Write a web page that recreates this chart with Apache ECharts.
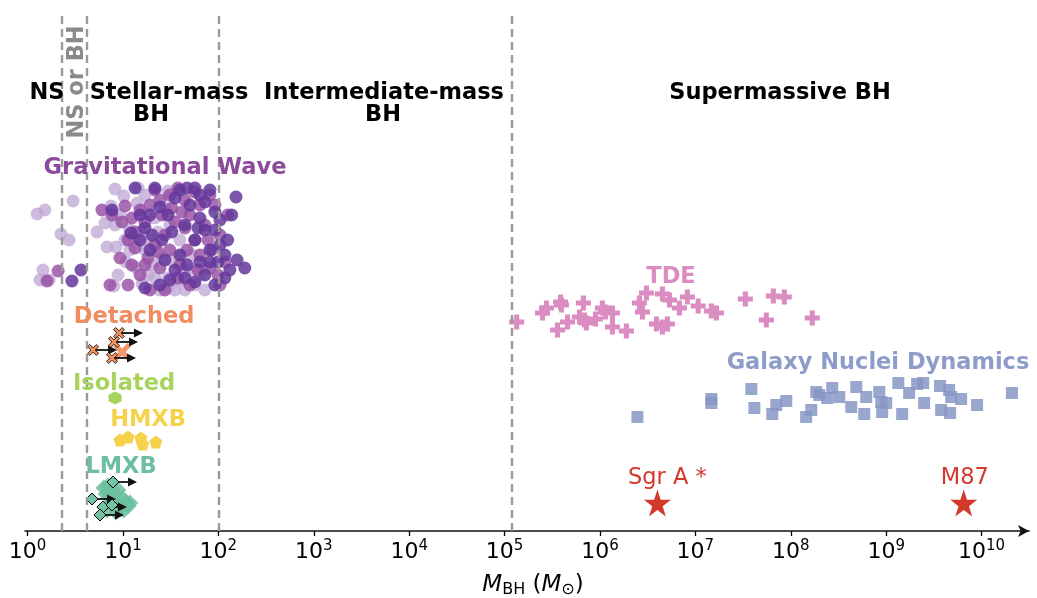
<!DOCTYPE html>
<html>
<head>
<meta charset="utf-8">
<script src="https://cdn.jsdelivr.net/npm/echarts@6/dist/echarts.min.js"></script>
<style>
  html, body { margin: 0; padding: 0; background: #fff; }
  #chart { width: 1037px; height: 598px; }
</style>
</head>
<body>
<div id="chart"></div>
<script>
// Black hole / neutron star masses by detection method.
// Each point: [mass in solar masses, vertical lane position]
const gwLight = [
  [1.26,317],[1.52,321],[3.0,330],[2.24,297],[2.72,291],[1.45,261],[1.35,251],[1.68,251],
  [8.25,342],[5.34,299],[6.8,284],[8.45,284],[8.87,256],[8.05,245],[13.4,264],[14.1,328],
  [7.5,325],[6.48,308],[8.25,306],[10.5,291],[9.31,316],[11.8,301],[15.1,299],[14.4,343],
  [17.0,336],[29.6,340],[27.5,323],[21.6,313],[14.4,293],[17.0,281],[20.2,266],[25.6,273],
  [32.5,270],[41.5,276],[44.6,260],[21.6,253],[29.6,253],[37.6,250],[50.3,261],[29.6,243],
  [18.3,256],[24.4,241],[35.1,241],[56.7,246],[11.8,281],[19.2,291],[23.3,299],[39.5,291],
  [64.0,256],[44.6,241],[10.8,269],[15.9,247],[52.8,276],[31.0,306],[72.2,241],[10.2,335]
];
const gwMedium = [
  [2.09,260],[1.60,250],[6.02,321],[10.5,325],[11.3,246],[7.31,246],[7.67,316],[9.77,309],
  [12.4,313],[15.1,321],[11.3,291],[13.4,283],[17.0,309],[19.2,326],[21.6,341],[24.4,331],
  [31.0,336],[37.6,343],[44.6,331],[56.7,339],[64.0,326],[81.5,336],[91.9,326],[50.3,316],
  [35.1,309],[27.5,296],[21.6,286],[18.3,273],[24.4,263],[31.0,281],[39.5,266],[44.6,303],
  [56.7,291],[72.2,306],[85.5,281],[104,296],[117,269],[81.5,263],[64.0,276],[50.3,246],
  [37.6,253],[27.5,241],[19.2,241],[15.1,256],[12.4,266],[25.6,316],[32.5,323],[47.0,281],
  [61.0,261],[104,246],[125,316],[17.0,266],[9.31,273],[77.7,291],[99,256],[41.5,319],
  [23.3,279],[13.4,299]
];
const gwDark = [
  [3.63,261],[2.92,250],[7.67,321],[13.4,343],[12.1,298],[21.6,343],[24.4,324],[29.6,316],
  [35.1,333],[39.5,341],[47.0,343],[56.7,343],[64.0,336],[72.2,329],[81.5,341],[91.9,319],
  [72.2,301],[64.0,313],[56.7,291],[81.5,281],[91.9,301],[104,286],[117,276],[132,261],
  [138,316],[157,271],[189,263],[153,334],[117,253],[91.9,246],[72.2,256],[56.7,249],
  [44.6,253],[35.1,261],[27.5,271],[19.2,281],[15.1,291],[17.0,303],[19.2,316],[25.6,291],
  [32.5,299],[44.6,306],[50.3,326],[64.0,269],[81.5,269],[99,269],[24.4,246],[31.0,251],
  [47.0,266],[61.0,303],[17.0,243],[20.2,296],[104,311],[125,291],[39.5,276],[15.1,316]
];
const detachedLimits = [[4.86,181],[9.08,198],[8.05,189],[7.67,173]];
const detachedBlob = [[9.77,179]];
const isolated = [[8.25,133]];
const hmxb = [[9.31,91],[11.3,94],[15.4,93],[16.1,87],[22.1,89]];
const lmxb = [
  [6.32,43],[6.97,45],[7.67,41],[6.64,37],[7.31,34],[8.25,36],[8.87,31],[9.77,33],
  [10.7,29],[11.8,28],[9.31,23],[10.2,21],[8.45,19],[7.31,27],[7.86,39],[8.87,41],
  [11.3,25],[6.8,21]
];
const lmxbLimits = [[7.86,49],[4.74,32],[6.17,24],[5.74,16]];
const lmxbEdged = [[7.67,26]];
const tde = [
  [1.34e5,209],[2.5e5,218],[2.75e5,223],[3.86e5,229],[3.95e5,226],[3.59e5,201],[4.57e5,209],
  [6.1e5,214],[6.7e5,228],[6.9e5,211],[7.2e5,208],[8.97e5,212],[1.06e6,223],[1.14e6,219],
  [1.35e6,218],[1.35e6,204],[1.89e6,200],[2.59e6,228],[2.79e6,219],[3.07e6,238],[3.91e6,207],
  [4.51e6,204],[5.09e6,207],[4.51e6,237],[5.35e6,231],[6.8e6,223],[8.24e6,234],[1.07e7,225],
  [1.47e7,220],[1.66e7,218],[3.34e7,232],[5.54e7,211],[6.56e7,235],[8.55e7,234],[1.68e8,213]
];
const galaxyNuclei = [
  [2.47e6,114],[1.47e7,132],[1.47e7,128],[3.86e7,142],[4.15e7,123],[7.05e7,126],[8.97e7,130],
  [6.4e7,117],[1.45e8,114],[1.64e8,121],[1.85e8,139],[1.99e8,136],[2.41e8,133],[2.72e8,143],
  [3.22e8,134],[4.3e8,124],[4.86e8,144],[6.18e8,134],[5.89e8,117],[8.46e8,139],[8.87e8,129],
  [9.08e8,119],[1.0e9,128],[1.34e9,148],[1.47e9,117],[1.74e9,138],[2.11e9,147],[2.44e9,148],
  [2.5e9,128],[3.67e9,145],[3.77e9,121],[4.57e9,141],[4.8e9,134],[4.68e9,118],[6.1e9,132],
  [8.97e9,126],[2.08e10,138]
];
const namedBH = [[4.0e6,28,'Sgr A *'],[6.5e9,28,'M87']];
// Class boundaries (solar masses)
const boundaries = [2.3, 4.2, 100, 1.2e5];
// Tick exponents for the mass axis
const tickExp = [0,1,2,3,4,5,6,7,8,9,10];
const tickValues = tickExp.map(e => Math.pow(10, e));

const FONT = "'DejaVu Sans', 'Liberation Sans', sans-serif";
const SYM = {
  cross: 'path://M0,2 L2,0 L5,3 L8,0 L10,2 L7,5 L10,8 L8,10 L5,7 L2,10 L0,8 L3,5 Z',
  plus: 'path://M3.3,0 H6.7 V3.3 H10 V6.7 H6.7 V10 H3.3 V6.7 H0 V3.3 H3.3 Z',
  hexagon: 'path://M5,0 L9.33,2.5 L9.33,7.5 L5,10 L0.67,7.5 L0.67,2.5 Z',
  pentagon: 'path://M5,0 L10,3.8 L8.1,10 L1.9,10 L0,3.8 Z',
  star: 'path://M50,0 L61.8,35.5 L99,35.5 L69,57.5 L80.5,93 L50,71 L19.5,93 L31,57.5 L1,35.5 L38.2,35.5 Z'
};

function scatter(name, data, symbol, size, color, extra) {
  const base = {
    name, type: 'scatter', data, symbol, symbolSize: size,
    itemStyle: { color, opacity: 1 }, z: 3, silent: true, animation: false
  };
  const s = Object.assign(base, extra || {});
  s.itemStyle = Object.assign({ color, opacity: 1 }, (extra && extra.itemStyle) || {});
  return s;
}

const arrowData = detachedLimits.concat(lmxbLimits);

const chart = echarts.init(document.getElementById('chart'), null, { renderer: 'canvas' });
const labelText = (text, x, y, color, size, weight) => ({
  type: 'text', x, y, z: 100, silent: true,
  style: { text, x: 0, y: 0, fill: color, font: `${weight || 'bold'} ${size || 22.5}px ${FONT}`,
           align: 'center', verticalAlign: 'middle' }
});

chart.setOption({
  animation: false,
  grid: { left: 25, right: 8, top: 15, bottom: 67 },
  xAxis: {
    type: 'log', logBase: 10, min: 0.94, max: 3.14e10,
    axisLine: { show: true, lineStyle: { color: '#111', width: 1.5 },
                symbol: ['none', 'arrow'], symbolSize: [9, 11] },
    axisTick: { show: true, length: 5, lineStyle: { color: '#000', width: 1.3 }, customValues: tickValues },
    minorTick: { show: false },
    splitLine: { show: false },
    axisLabel: {
      customValues: tickValues, margin: 8, color: '#000',
      formatter: v => '{b|10}{s|' + Math.round(Math.log10(v)) + '}',
      rich: {
        b: { fontFamily: FONT, fontSize: 22, color: '#000' },
        s: { fontFamily: FONT, fontSize: 15, color: '#000', padding: [0, 0, 11, 0] }
      }
    }
  },
  yAxis: { type: 'value', min: 0, max: 516, show: false },
  series: [
    scatter('gwLight', gwLight, 'circle', 13, 'rgba(190,166,212,0.75)'),
    scatter('gwMedium', gwMedium, 'circle', 13, 'rgba(150,78,163,0.82)'),
    scatter('gwDark', gwDark, 'circle', 13, 'rgba(100,55,155,0.85)'),
    scatter('lmxb', lmxb, 'diamond', 17, 'rgba(108,192,160,0.85)', { z: 2 }),
    scatter('detachedBlob', detachedBlob, SYM.cross, 18, 'rgba(240,140,95,0.9)', { z: 2 }),
    {
      name: 'limits', type: 'custom', data: arrowData, z: 3, silent: true, animation: false,
      encode: { x: 0, y: 1 },
      renderItem: (params, api) => {
        const p = api.coord([api.value(0), api.value(1)]);
        const len = 24, head = 9, hw = 4.5;
        return {
          type: 'group', children: [
            { type: 'line', shape: { x1: p[0], y1: p[1], x2: p[0] + len - head + 1, y2: p[1] },
              style: { stroke: '#111', lineWidth: 1.8 } },
            { type: 'polygon', shape: { points: [[p[0] + len, p[1]], [p[0] + len - head, p[1] - hw], [p[0] + len - head, p[1] + hw]] },
              style: { fill: '#111' } }
          ]
        };
      }
    },
    scatter('detached', detachedLimits, SYM.cross, 11, '#f0915f', { itemStyle: { borderColor: '#000', borderWidth: 0.8 }, z: 4 }),
    scatter('isolated', isolated, SYM.hexagon, 13, '#a8d35e'),
    scatter('hmxb', hmxb, SYM.pentagon, 13, '#f6d24a'),
    scatter('lmxbEdged', lmxbLimits.concat(lmxbEdged), 'diamond', 12, '#74c3a3',
      { itemStyle: { borderColor: '#000', borderWidth: 1 }, z: 4 }),
    scatter('tde', tde, SYM.plus, 15, '#db8cc1'),
    scatter('galaxy', galaxyNuclei, 'rect', 12, 'rgba(135,151,198,0.85)'),
    scatter('named', [], SYM.star, 27, '#d3382c', {
      data: namedBH.map(d => ({
        value: [d[0], d[1]], name: d[2],
        label: { offset: d[2] === 'Sgr A *' ? [10, 0] : [1, 0] }
      })),
      label: { show: true, position: 'top', distance: 0, formatter: p => p.name,
               fontFamily: FONT, fontSize: 22.5, color: '#d3382c' }
    }),
    {
      name: 'boundaries', type: 'scatter', data: [], z: 10, silent: true, animation: false,
      markLine: {
        silent: true, animation: false, symbol: ['none', 'none'], label: { show: false },
        lineStyle: { type: [8, 5], color: '#9a9a9a', width: 2.4 },
        data: boundaries.map(v => ({ xAxis: v }))
      }
    }
  ],
  graphic: [
    labelText('NS', 47, 93, '#000'),
    labelText('Stellar-mass', 169, 93, '#000'),
    labelText('BH', 151, 115, '#000'),
    labelText('Intermediate-mass', 384, 93, '#000'),
    labelText('BH', 383, 115, '#000'),
    labelText('Supermassive BH', 780, 93, '#000'),
    Object.assign(labelText('NS or BH', 77, 82, '#8a8a8a'), { rotation: Math.PI / 2 }),
    labelText('Gravitational Wave', 165, 168, '#8b4a9c'),
    labelText('Detached', 134, 317, '#ef8d61'),
    labelText('Isolated', 124, 384, '#a8d35e'),
    labelText('HMXB', 148, 420, '#f6d24a'),
    labelText('LMXB', 121, 467, '#6cc0a0'),
    labelText('TDE', 671, 277, '#db8cc1'),
    labelText('Galaxy Nuclei Dynamics', 878, 363, '#8e9cc9'),
    {
      type: 'text', x: 533, y: 585, z: 100, silent: true,
      style: {
        x: 0, y: 0, align: 'center', verticalAlign: 'middle',
        text: '{i|M}{s|BH}{n| (}{i|M}{s|⊙}{n|)}',
        rich: {
          i: { fontFamily: FONT, fontSize: 23, fontStyle: 'italic', fill: '#000' },
          n: { fontFamily: FONT, fontSize: 23, fill: '#000' },
          s: { fontFamily: FONT, fontSize: 16, fill: '#000', padding: [10, 0, 0, 0], verticalAlign: 'bottom' }
        }
      }
    }
  ]
});
</script>
</body>
</html>
